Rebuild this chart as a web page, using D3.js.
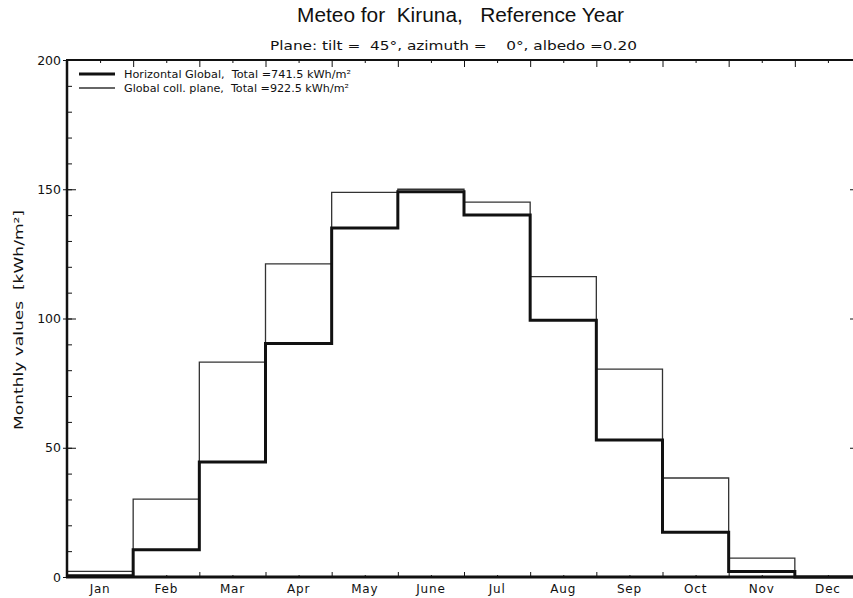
<!DOCTYPE html>
<html>
<head>
<meta charset="utf-8">
<script src="https://cdn.jsdelivr.net/npm/d3@7"></script>
<style>
  body { margin: 0; background: #fff; }
  svg { display: block; }
  text { font-family: "DejaVu Sans", Verdana, sans-serif; fill: #111; white-space: pre; }
  .title { font-family: "Liberation Sans", Arial, sans-serif; }
</style>
</head>
<body>
<div id="chart"></div>
<script>
// monthly values, kWh/m2
var months = ['Jan','Feb','Mar','Apr','May','June','Jul','Aug','Sep','Oct','Nov','Dec'];
var horizGlobal = [0.5, 10.5, 44.5, 90.3, 135.0, 149.0, 140.0, 99.3, 53.0, 17.3, 2.1, 0];
var collPlane   = [2.2, 30.1, 83.1, 121.1, 148.8, 150.0, 145.0, 116.2, 80.4, 38.3, 7.3, 0];
var yTicks = [0, 50, 100, 150, 200];
var legendLabels = ['Horizontal Global,  Total =741.5 kWh/m\u00b2', 'Global coll. plane,  Total =922.5 kWh/m\u00b2'];

var W = 853, H = 598;
var margin = {top: 60, left: 67, bottom: 21};
var plotRight = 861;   // frame runs past the window edge

var svg = d3.select('#chart').append('svg')
  .attr('width', W)
  .attr('height', H);

var x = d3.scaleLinear().domain([0, 12]).range([margin.left, plotRight]);
var y = d3.scaleLinear().domain([0, 200]).range([H - margin.bottom, margin.top]);
var xm = d3.scaleBand().domain(months).range([margin.left, plotRight]);

// titles
svg.append('text').attr('class', 'title')
  .attr('x', 297).attr('y', 22)
  .attr('textLength', 327).attr('lengthAdjust', 'spacingAndGlyphs')
  .style('font-size', '20px')
  .text('Meteo for  Kiruna,   Reference Year');
svg.append('text')
  .attr('x', 270).attr('y', 50)
  .attr('textLength', 367).attr('lengthAdjust', 'spacingAndGlyphs')
  .style('font-size', '12.5px')
  .text('Plane: tilt =  45\u00b0, azimuth =    0\u00b0, albedo =0.20');

// y label
svg.append('text')
  .attr('transform', 'translate(23,430) rotate(-90)')
  .attr('textLength', 220).attr('lengthAdjust', 'spacingAndGlyphs')
  .style('font-size', '13px')
  .text('Monthly values  [kWh/m\u00b2]');

// data steps
var line = d3.line()
  .x(function(d, i) { return x(i); })
  .y(function(d) { return y(d); })
  .curve(d3.curveStepAfter);

function withEnd(arr) { return arr.concat([arr[arr.length - 1]]); }

svg.append('path')
  .datum(withEnd(collPlane))
  .attr('d', line)
  .attr('fill', 'none')
  .attr('stroke', '#333')
  .attr('stroke-width', 1.3);

svg.append('path')
  .datum(withEnd(horizGlobal))
  .attr('d', line)
  .attr('fill', 'none')
  .attr('stroke', '#111')
  .attr('stroke-width', 3);

// axes
function clean(g) { g.select('.domain').remove(); g.selectAll('line').attr('stroke', '#111'); }

var yOut = svg.append('g')
  .attr('transform', 'translate(' + margin.left + ',0)')
  .call(d3.axisLeft(y).tickValues(yTicks).tickSize(4).tickPadding(2))
  .call(clean);
yOut.selectAll('text').style('font-size', '12.5px').style('font-family', '"DejaVu Sans", sans-serif').attr('fill', '#111');

svg.append('g')
  .attr('transform', 'translate(' + margin.left + ',0)')
  .call(d3.axisRight(y).tickValues(yTicks).tickSize(9).tickFormat(''))
  .call(clean);
svg.append('g')
  .attr('transform', 'translate(' + margin.left + ',0)')
  .call(d3.axisRight(y).tickValues(d3.range(0, 201, 10)).tickSize(5).tickFormat(''))
  .call(clean);
// right side ticks
svg.append('g')
  .attr('transform', 'translate(' + plotRight + ',0)')
  .call(d3.axisLeft(y).tickValues([50, 100, 150]).tickSize(11).tickFormat(''))
  .call(clean);

// bottom ticks
svg.append('g')
  .attr('transform', 'translate(0,' + y(0) + ')')
  .call(d3.axisTop(x).tickValues(d3.range(0, 13)).tickSize(5).tickFormat(''))
  .call(clean);
svg.append('g')
  .attr('transform', 'translate(0,' + y(0) + ')')
  .call(d3.axisTop(x).tickValues(d3.range(0.5, 12, 1)).tickSize(2).tickFormat(''))
  .call(clean);
// top ticks
svg.append('g')
  .attr('transform', 'translate(0,' + y(200) + ')')
  .call(d3.axisBottom(x).tickValues(d3.range(0, 13)).tickSize(7).tickFormat(''))
  .call(clean);
svg.append('g')
  .attr('transform', 'translate(0,' + y(200) + ')')
  .call(d3.axisBottom(x).tickValues(d3.range(0.5, 12, 1)).tickSize(3).tickFormat(''))
  .call(clean);

// month labels
var xl = svg.append('g')
  .attr('transform', 'translate(0,' + y(0) + ')')
  .call(d3.axisBottom(xm).tickSize(0).tickPadding(7))
  .call(clean);
xl.selectAll('text').style('font-size', '12px').style('font-family', '"DejaVu Sans", sans-serif')
  .style('letter-spacing', '0.8px').attr('fill', '#111');

// frame
svg.append('line').attr('x1', margin.left).attr('x2', margin.left)
  .attr('y1', y(200)).attr('y2', y(0) + 1)
  .attr('stroke', '#111').attr('stroke-width', 2.5);
svg.append('line').attr('x1', margin.left - 1).attr('x2', plotRight)
  .attr('y1', y(0)).attr('y2', y(0))
  .attr('stroke', '#111').attr('stroke-width', 3);
svg.append('line').attr('x1', margin.left - 1).attr('x2', plotRight)
  .attr('y1', y(200)).attr('y2', y(200))
  .attr('stroke', '#111').attr('stroke-width', 2);
svg.append('line').attr('x1', plotRight).attr('x2', plotRight)
  .attr('y1', y(200)).attr('y2', y(0))
  .attr('stroke', '#111').attr('stroke-width', 2);

// legend
var legendWidths = [227, 225];
var legend = svg.selectAll('.legend')
  .data(legendLabels)
  .enter().append('g')
  .attr('class', 'legend')
  .attr('transform', function(d, i) { return 'translate(79,' + (74 + i * 14) + ')'; });
legend.append('line')
  .attr('x1', 0).attr('x2', 36)
  .attr('stroke', function(d, i) { return i === 0 ? '#111' : '#333'; })
  .attr('stroke-width', function(d, i) { return i === 0 ? 3 : 1.3; });
legend.append('text')
  .attr('x', 45).attr('y', 4)
  .attr('textLength', function(d, i) { return legendWidths[i]; })
  .attr('lengthAdjust', 'spacingAndGlyphs')
  .style('font-size', '11px')
  .text(function(d) { return d; });
</script>
</body>
</html>
